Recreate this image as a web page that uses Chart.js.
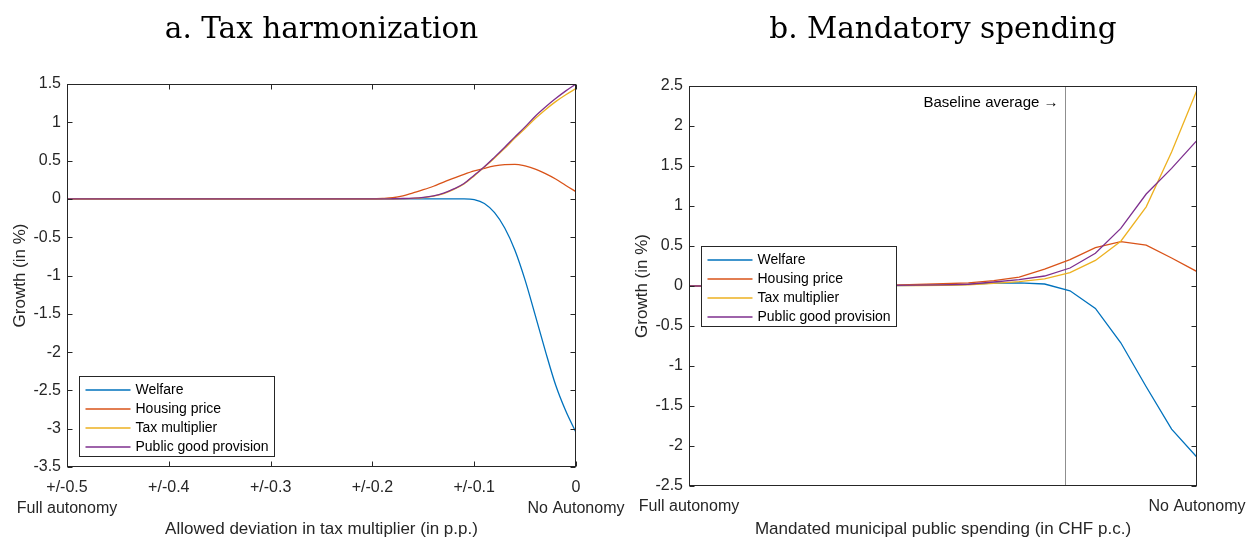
<!DOCTYPE html>
<html>
<head>
<meta charset="utf-8">
<script src="https://cdn.jsdelivr.net/npm/chart.js@4.4.1/dist/chart.umd.min.js"></script>
<style>
  html, body { margin: 0; padding: 0; background: #fff; }
  #wrap { position: relative; width: 1248px; height: 538px; }
  canvas { position: absolute; left: 0; top: 0; }
</style>
</head>
<body>
<div id="wrap">
  <canvas id="taxChart" width="1248" height="538"></canvas>
  <canvas id="spendChart" width="1248" height="538"></canvas>
</div>
<script>
// Series shared by both panels
const seriesNames = ["Welfare", "Housing price", "Tax multiplier", "Public good provision"];
const seriesColors = ["#0072BD", "#D95319", "#EDB120", "#7E2F8E"];
const autonomyLabels = ["Full autonomy", "No Autonomy"];

// Panel a: tax harmonization
const taxDeviation = [-0.5, -0.4, -0.3, -0.2, -0.19, -0.18, -0.17, -0.16, -0.15, -0.14, -0.13, -0.12,
  -0.11, -0.1, -0.09, -0.08, -0.07, -0.06, -0.05, -0.04, -0.03, -0.02, -0.01, 0];
const taxWelfare = [0, 0, 0, 0, 0, 0, 0, 0, 0, 0, 0, 0,
  0, -0.01, -0.06, -0.18, -0.38, -0.67, -1.06, -1.52, -1.99, -2.43, -2.77, -3.05];
const taxHousing = [0, 0, 0, 0, 0.005, 0.015, 0.04, 0.08, 0.12, 0.165, 0.22, 0.27,
  0.32, 0.365, 0.4, 0.43, 0.448, 0.452, 0.43, 0.39, 0.33, 0.26, 0.175, 0.095];
const taxMultiplier = [0, 0, 0, 0, 0, 0.001, 0.003, 0.008, 0.018, 0.037, 0.07, 0.125,
  0.195, 0.3, 0.415, 0.535, 0.66, 0.795, 0.92, 1.05, 1.165, 1.27, 1.36, 1.44];
const taxPublicGood = [0, 0, 0, 0, 0, 0.002, 0.005, 0.01, 0.02, 0.04, 0.075, 0.13,
  0.2, 0.31, 0.42, 0.545, 0.675, 0.81, 0.94, 1.08, 1.2, 1.31, 1.41, 1.5];
const taxTickValues = [-0.5, -0.4, -0.3, -0.2, -0.1, 0];
const taxTickLabels = ["+/-0.5", "+/-0.4", "+/-0.3", "+/-0.2", "+/-0.1", "0"];

// Panel b: mandatory spending (21 steps from full to no autonomy)
const spendSteps = [0, 1, 2, 3, 4, 5, 6, 7, 8, 9, 10, 11, 12, 13, 14, 15, 16, 17, 18, 19, 20];
const spendWelfare = [0, 0, 0, 0, 0, 0, 0.002, 0.004, 0.006, 0.008, 0.012, 0.02,
  0.035, 0.04, 0.025, -0.06, -0.28, -0.71, -1.26, -1.79, -2.14];
const spendHousing = [0, 0, 0, 0, 0, 0.002, 0.004, 0.007, 0.012, 0.02, 0.028, 0.04,
  0.067, 0.11, 0.21, 0.33, 0.48, 0.555, 0.51, 0.35, 0.18];
const spendMultiplier = [0, 0, 0, 0, 0, 0, 0.001, 0.002, 0.004, 0.006, 0.009, 0.015,
  0.033, 0.054, 0.09, 0.167, 0.32, 0.56, 0.99, 1.675, 2.45];
const spendPublicGood = [0, 0, 0, 0, 0, 0.001, 0.002, 0.004, 0.007, 0.01, 0.014, 0.022,
  0.05, 0.08, 0.125, 0.225, 0.41, 0.72, 1.15, 1.47, 1.82];
const spendBaseline = 14.8;
const spendBaselineText = "Baseline average \u2192";

const axisColor = "#262626";
const sansFont = "'Liberation Sans', Arial, Helvetica, sans-serif";

// Panel title centred over the plot area
const panelTitle = {
  id: "panelTitle",
  afterDraw(chart, args, opts) {
    const { ctx, chartArea } = chart;
    ctx.save();
    ctx.fillStyle = "#000";
    ctx.font = "29.5px 'DejaVu Serif', serif";
    ctx.textAlign = "center";
    ctx.textBaseline = "alphabetic";
    ctx.fillText(opts.text, (chartArea.left + chartArea.right) / 2, 38);
    ctx.restore();
  },
};

// Box around the axes with inward tick marks, like MATLAB
const frame = {
  id: "frame",
  afterDatasetsDraw(chart, args, opts) {
    const { ctx, chartArea: a, scales } = chart;
    const L = Math.round(a.left) + 0.5, R = Math.round(a.right) - 0.5;
    const T = Math.round(a.top) + 0.5, B = Math.round(a.bottom) - 0.5;
    ctx.save();
    ctx.strokeStyle = axisColor;
    ctx.lineWidth = 1;
    ctx.beginPath();
    scales.y.ticks.forEach((t) => {
      const y = Math.round(scales.y.getPixelForValue(t.value)) + 0.5;
      ctx.moveTo(L, y); ctx.lineTo(L + 5, y);
      ctx.moveTo(R, y); ctx.lineTo(R - 5, y);
    });
    if (opts.xTicks) {
      scales.x.ticks.forEach((t) => {
        const x = Math.round(scales.x.getPixelForValue(t.value)) + 0.5;
        ctx.moveTo(x, B); ctx.lineTo(x, B - 5);
        ctx.moveTo(x, T); ctx.lineTo(x, T + 5);
      });
    }
    ctx.stroke();
    ctx.strokeRect(L, T, R - L, B - T);
    ctx.restore();
  },
};

// Boxed legend inside the plot area
const boxLegend = {
  id: "boxLegend",
  afterDraw(chart, args, opts) {
    const { ctx, chartArea } = chart;
    const x = Math.round(chartArea.left + opts.left) + 0.5;
    const y = Math.round(chartArea.top + opts.top) + 0.5;
    const w = 195, h = 80;
    ctx.save();
    ctx.fillStyle = "#fff";
    ctx.fillRect(x, y, w, h);
    ctx.strokeStyle = axisColor;
    ctx.lineWidth = 1;
    ctx.strokeRect(x, y, w, h);
    ctx.font = "14px " + sansFont;
    ctx.textBaseline = "middle";
    ctx.textAlign = "left";
    chart.data.datasets.forEach((ds, i) => {
      const cy = Math.round(y + 13 + i * 19);
      ctx.strokeStyle = ds.borderColor;
      ctx.lineWidth = 1.5;
      ctx.beginPath();
      ctx.moveTo(x + 6, cy);
      ctx.lineTo(x + 51, cy);
      ctx.stroke();
      ctx.fillStyle = "#000";
      ctx.fillText(ds.label, x + 56, cy);
    });
    ctx.restore();
  },
};

// Vertical marker for the baseline average in panel b
const baselineMarker = {
  id: "baselineMarker",
  beforeDatasetsDraw(chart, args, opts) {
    if (opts.value === undefined) return;
    const { ctx, chartArea, scales } = chart;
    const x = Math.round(scales.x.getPixelForValue(opts.value)) + 0.5;
    ctx.save();
    ctx.strokeStyle = "#8f8f8f";
    ctx.lineWidth = 1;
    ctx.beginPath();
    ctx.moveTo(x, chartArea.top);
    ctx.lineTo(x, chartArea.bottom);
    ctx.stroke();
    ctx.fillStyle = "#000";
    ctx.font = "15px " + sansFont;
    ctx.textAlign = "right";
    ctx.textBaseline = "alphabetic";
    ctx.fillText(opts.text, x - 7, chartArea.top + 21);
    ctx.restore();
  },
};

function makeDatasets(xs, ys, smooth) {
  return ys.map((vals, i) => ({
    label: seriesNames[i],
    data: xs.map((x, j) => ({ x, y: vals[j] })),
    borderColor: seriesColors[i],
    backgroundColor: seriesColors[i],
    borderWidth: 1.3,
    pointRadius: 0,
    fill: false,
    tension: 0,
    cubicInterpolationMode: smooth ? "monotone" : "default",
    order: seriesNames.length - i, // last series on top, like MATLAB
  }));
}

function makeOptions(cfg) {
  return {
    responsive: false,
    animation: false,
    events: [],
    layout: { padding: cfg.padding },
    plugins: {
      legend: { display: false },
      tooltip: { enabled: false },
      panelTitle: { text: cfg.title },
      frame: { xTicks: cfg.xTicks },
      boxLegend: cfg.legend,
      baselineMarker: cfg.marker || {},
    },
    scales: {
      x: {
        type: "linear",
        min: cfg.xMin,
        max: cfg.xMax,
        grid: { display: false, drawTicks: false },
        border: { display: false },
        afterBuildTicks: (scale) => {
          scale.ticks = cfg.xTickValues.map((v) => ({ value: v }));
        },
        afterFit: (scale) => {
          scale.height = cfg.xAxisHeight;
          scale.paddingLeft = 0;
          scale.paddingRight = 0;
        },
        ticks: {
          autoSkip: false,
          maxRotation: 0,
          padding: 10,
          color: axisColor,
          font: { family: sansFont, size: 16, lineHeight: "21px" },
          callback: cfg.xLabel,
        },
        title: {
          display: true,
          text: cfg.xTitle,
          color: axisColor,
          padding: { top: 0, bottom: 0 },
          font: { family: sansFont, size: 17, lineHeight: 1 },
        },
      },
      y: {
        min: cfg.yMin,
        max: cfg.yMax,
        grid: { display: false, drawTicks: false },
        border: { display: false },
        afterFit: (scale) => {
          scale.width = 67;
          scale.paddingTop = 0;
          scale.paddingBottom = 0;
        },
        ticks: {
          stepSize: 0.5,
          padding: 6,
          color: axisColor,
          font: { family: sansFont, size: 16 },
          callback: (v) => String(Math.round(v * 10) / 10),
        },
        title: {
          display: true,
          text: "Growth (in %)",
          color: axisColor,
          padding: { top: 10, bottom: 0 },
          font: { family: sansFont, size: 17 },
        },
      },
    },
  };
}

const localPlugins = [panelTitle, frame, boxLegend, baselineMarker];

new Chart(document.getElementById("taxChart"), {
  type: "line",
  data: {
    datasets: makeDatasets(taxDeviation, [taxWelfare, taxHousing, taxMultiplier, taxPublicGood], true),
  },
  options: makeOptions({
    title: "a. Tax harmonization",
    padding: { left: 0, top: 84, right: 672, bottom: 0 },
    xMin: -0.5, xMax: 0, yMin: -3.5, yMax: 1.5,
    xTickValues: taxTickValues,
    xAxisHeight: 71,
    xTicks: true,
    xLabel: (v, i) => {
      if (i === 0) return [taxTickLabels[0], autonomyLabels[0]];
      if (i === taxTickLabels.length - 1) return [taxTickLabels[i], autonomyLabels[1]];
      return taxTickLabels[i];
    },
    xTitle: "Allowed deviation in tax multiplier (in p.p.)",
    legend: { left: 12, top: 292 },
  }),
  plugins: localPlugins,
});

new Chart(document.getElementById("spendChart"), {
  type: "line",
  data: {
    datasets: makeDatasets(spendSteps, [spendWelfare, spendHousing, spendMultiplier, spendPublicGood], false),
  },
  options: makeOptions({
    title: "b. Mandatory spending",
    padding: { left: 622, top: 86, right: 51, bottom: 0 },
    xMin: 0, xMax: 20, yMin: -2.5, yMax: 2.5,
    xTickValues: [spendSteps[0], spendSteps[spendSteps.length - 1]],
    xAxisHeight: 52,
    xTicks: false,
    xLabel: (v, i) => autonomyLabels[i],
    xTitle: "Mandated municipal public spending (in CHF p.c.)",
    legend: { left: 12, top: 160 },
    marker: { value: spendBaseline, text: spendBaselineText },
  }),
  plugins: localPlugins,
});
</script>
</body>
</html>
